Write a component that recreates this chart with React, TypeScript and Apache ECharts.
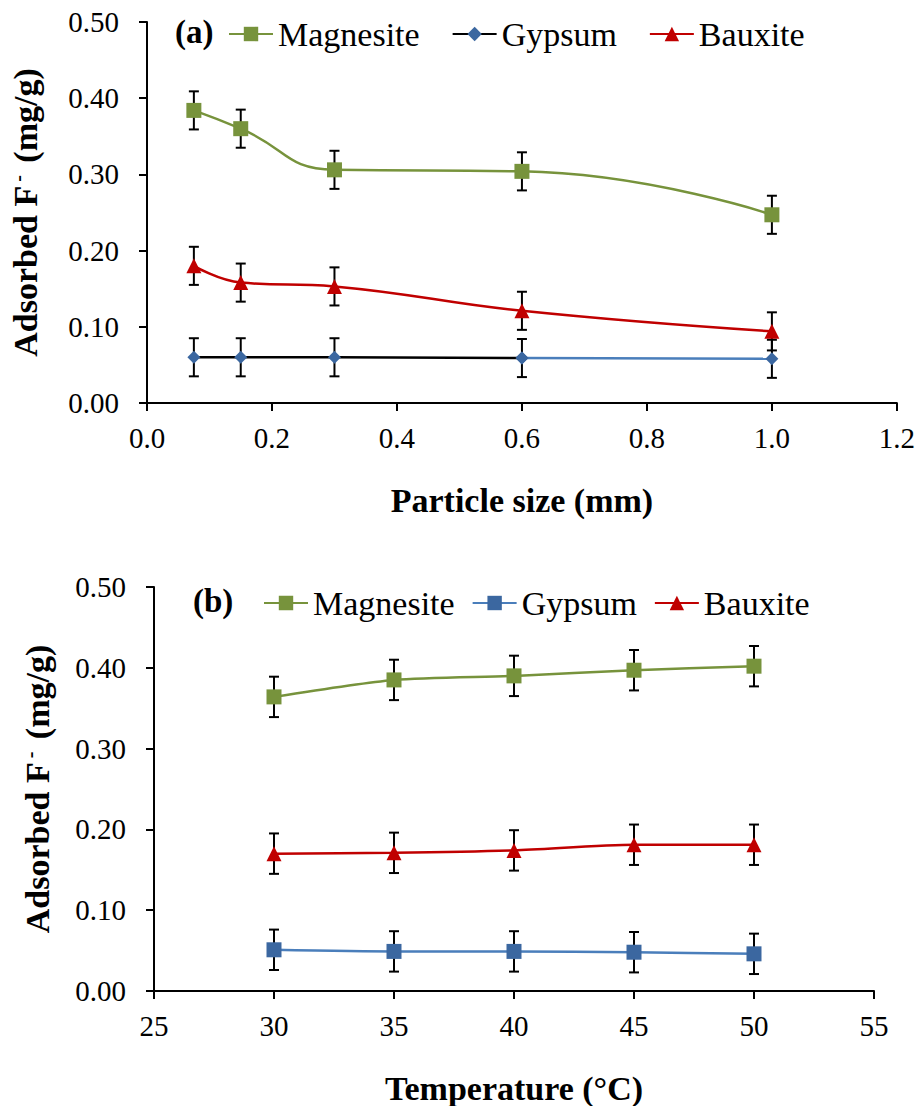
import React, { useEffect, useRef } from "react";
import * as echarts from "echarts";

// Panel (a): adsorbed fluoride vs particle size
const particleSize = [0.075, 0.15, 0.3, 0.6, 1.0];
const magnesiteBySize = [0.384, 0.36, 0.306, 0.304, 0.247];
const gypsumBySize = [0.06, 0.06, 0.06, 0.059, 0.058];
const bauxiteBySize = [0.18, 0.158, 0.153, 0.121, 0.094];
const magnesiteBySizeErr = [0.025, 0.025, 0.025, 0.025, 0.025];
const gypsumBySizeErr = [0.025, 0.025, 0.025, 0.025, 0.025];
const bauxiteBySizeErr = [0.025, 0.025, 0.025, 0.025, 0.025];

// Panel (b): adsorbed fluoride vs temperature
const temperature = [30, 35, 40, 45, 50];
const magnesiteByTemp = [0.364, 0.385, 0.39, 0.397, 0.402];
const gypsumByTemp = [0.051, 0.049, 0.049, 0.048, 0.046];
const bauxiteByTemp = [0.17, 0.171, 0.174, 0.181, 0.181];
const magnesiteByTempErr = [0.025, 0.025, 0.025, 0.025, 0.025];
const gypsumByTempErr = [0.025, 0.025, 0.025, 0.025, 0.025];
const bauxiteByTempErr = [0.025, 0.025, 0.025, 0.025, 0.025];

const FONT = "Liberation Serif, Times New Roman, serif";
const GREEN = "#77933C";
const BLUE_MARK = "#3B67A0";
const BLUE_LINE = "#4A7EBB";
const RED = "#C00000";

const zip = (xs: number[], ys: number[]) => xs.map((x, i) => [x, ys[i]]);
const zip3 = (xs: number[], ys: number[], es: number[]) =>
  xs.map((x, i) => [x, ys[i], es[i]]);

function errorBars(data: number[][], axisIndex: number) {
  return {
    type: "custom",
    xAxisIndex: axisIndex,
    yAxisIndex: axisIndex,
    z: 1,
    silent: true,
    data,
    encode: { x: 0, y: 1 },
    renderItem: (_params: any, api: any) => {
      const x = api.value(0);
      const y = api.value(1);
      const e = api.value(2);
      const hi = api.coord([x, y + e]);
      const lo = api.coord([x, y - e]);
      const w = 5;
      const style = { stroke: "#000", lineWidth: 2 };
      return {
        type: "group",
        children: [
          { type: "line", shape: { x1: hi[0], y1: hi[1], x2: lo[0], y2: lo[1] }, style },
          { type: "line", shape: { x1: hi[0] - w, y1: hi[1], x2: hi[0] + w, y2: hi[1] }, style },
          { type: "line", shape: { x1: lo[0] - w, y1: lo[1], x2: lo[0] + w, y2: lo[1] }, style },
        ],
      };
    },
  };
}

function xAxis(gridIndex: number, min: number, max: number, interval: number, digits: number, name: string) {
  return {
    type: "value",
    gridIndex,
    min,
    max,
    interval,
    name,
    nameLocation: "middle",
    nameGap: 80,
    nameTextStyle: { fontFamily: FONT, fontWeight: "bold", fontSize: 34, color: "#000" },
    axisLine: { onZero: false, lineStyle: { color: "#000", width: 2 } },
    axisTick: { length: 8, lineStyle: { color: "#000", width: 2 } },
    splitLine: { show: false },
    axisLabel: {
      fontFamily: FONT,
      fontSize: 29,
      color: "#000",
      margin: 20,
      formatter: (v: number) => v.toFixed(digits),
    },
  };
}

function yAxis(gridIndex: number, nameGap: number) {
  return {
    type: "value",
    gridIndex,
    min: 0,
    max: 0.5,
    interval: 0.1,
    name: "{t|Adsorbed F}{s|-}{t| (mg/g)}",
    nameLocation: "middle",
    nameRotate: 90,
    nameGap,
    nameTextStyle: {
      rich: {
        t: { fontFamily: FONT, fontWeight: "bold", fontSize: 34, color: "#000" },
        s: { fontFamily: FONT, fontWeight: "bold", fontSize: 20, color: "#000", verticalAlign: "top", padding: [0, 4, 0, 4] },
      },
    },
    axisLine: { show: true, onZero: false, lineStyle: { color: "#000", width: 2 } },
    axisTick: { show: true, length: 8, lineStyle: { color: "#000", width: 2 } },
    splitLine: { show: false },
    axisLabel: {
      fontFamily: FONT,
      fontSize: 29,
      color: "#000",
      margin: 28,
      formatter: (v: number) => v.toFixed(2),
    },
  };
}

const SUFFIX_B = " (b)";

export default function App() {
  const ref = useRef<HTMLDivElement>(null);

  useEffect(() => {
    if (!ref.current) return;
    const chart = echarts.init(ref.current, undefined, { renderer: "svg" });

    const legendBase = {
      orient: "horizontal",
      itemWidth: 44,
      itemHeight: 18,
      textStyle: { fontFamily: FONT, fontSize: 34, color: "#000" },
      formatter: (n: string) => n.replace(SUFFIX_B, ""),
      selectedMode: false,
    };

    chart.setOption({
      animation: false,
      backgroundColor: "#fff",
      grid: [
        { left: 143, top: 22, right: 21, bottom: 703 },
        { left: 154, top: 587, right: 44, bottom: 114 },
      ],
      xAxis: [
        xAxis(0, 0, 1.2, 0.2, 1, "Particle size (mm)"),
        xAxis(1, 25, 55, 5, 0, "Temperature (°C)"),
      ],
      yAxis: [yAxis(0, 105), yAxis(1, 100)],
      legend: [
        { ...legendBase, left: 223, top: 12, itemGap: 32, data: ["Magnesite", "Gypsum", "Bauxite"] },
        {
          ...legendBase,
          left: 258,
          top: 581,
          itemGap: 17,
          data: ["Magnesite" + SUFFIX_B, "Gypsum" + SUFFIX_B, "Bauxite" + SUFFIX_B],
        },
      ],
      graphic: [
        {
          type: "text",
          left: 175,
          top: 15,
          style: { text: "(a)", fontFamily: FONT, fontWeight: "bold", fontSize: 33, fill: "#000" },
        },
        {
          type: "text",
          left: 193,
          top: 584,
          style: { text: "(b)", fontFamily: FONT, fontWeight: "bold", fontSize: 33, fill: "#000" },
        },
      ],
      series: [
        // Panel (a)
        errorBars(zip3(particleSize, magnesiteBySize, magnesiteBySizeErr), 0),
        errorBars(zip3(particleSize, gypsumBySize, gypsumBySizeErr), 0),
        errorBars(zip3(particleSize, bauxiteBySize, bauxiteBySizeErr), 0),
        {
          name: "Magnesite",
          type: "line",
          xAxisIndex: 0,
          yAxisIndex: 0,
          z: 3,
          smooth: 0.5,
          data: zip(particleSize, magnesiteBySize),
          symbol: "rect",
          symbolSize: 15,
          lineStyle: { color: GREEN, width: 2.5 },
          itemStyle: { color: GREEN },
        },
        {
          // last stretch of the gypsum curve is drawn in blue
          type: "line",
          xAxisIndex: 0,
          yAxisIndex: 0,
          z: 2,
          data: zip(particleSize.slice(3), gypsumBySize.slice(3)),
          symbol: "diamond",
          symbolSize: 13,
          lineStyle: { color: BLUE_LINE, width: 2.5 },
          itemStyle: { color: BLUE_MARK },
        },
        {
          name: "Gypsum",
          type: "line",
          xAxisIndex: 0,
          yAxisIndex: 0,
          z: 3,
          smooth: 0.4,
          data: zip(particleSize.slice(0, 4), gypsumBySize.slice(0, 4)),
          symbol: "diamond",
          symbolSize: 13,
          lineStyle: { color: "#000", width: 2.5 },
          itemStyle: { color: BLUE_MARK },
        },
        {
          name: "Bauxite",
          type: "line",
          xAxisIndex: 0,
          yAxisIndex: 0,
          z: 3,
          smooth: 0.45,
          data: zip(particleSize, bauxiteBySize),
          symbol: "triangle",
          symbolSize: 15,
          lineStyle: { color: RED, width: 2.5 },
          itemStyle: { color: RED },
        },
        // Panel (b)
        errorBars(zip3(temperature, magnesiteByTemp, magnesiteByTempErr), 1),
        errorBars(zip3(temperature, gypsumByTemp, gypsumByTempErr), 1),
        errorBars(zip3(temperature, bauxiteByTemp, bauxiteByTempErr), 1),
        {
          name: "Magnesite" + SUFFIX_B,
          type: "line",
          xAxisIndex: 1,
          yAxisIndex: 1,
          z: 3,
          smooth: 0.25,
          data: zip(temperature, magnesiteByTemp),
          symbol: "rect",
          symbolSize: 15,
          lineStyle: { color: GREEN, width: 2.5 },
          itemStyle: { color: GREEN },
        },
        {
          name: "Gypsum" + SUFFIX_B,
          type: "line",
          xAxisIndex: 1,
          yAxisIndex: 1,
          z: 3,
          smooth: 0.25,
          data: zip(temperature, gypsumByTemp),
          symbol: "rect",
          symbolSize: 15,
          lineStyle: { color: BLUE_LINE, width: 2.5 },
          itemStyle: { color: BLUE_MARK },
        },
        {
          name: "Bauxite" + SUFFIX_B,
          type: "line",
          xAxisIndex: 1,
          yAxisIndex: 1,
          z: 3,
          smooth: 0.25,
          data: zip(temperature, bauxiteByTemp),
          symbol: "triangle",
          symbolSize: 15,
          lineStyle: { color: RED, width: 2.5 },
          itemStyle: { color: RED },
        },
      ],
    });

    return () => chart.dispose();
  }, []);

  return (
    <div
      ref={ref}
      style={{ position: "absolute", left: 0, top: 0, width: 918, height: 1106, background: "#fff" }}
    />
  );
}
